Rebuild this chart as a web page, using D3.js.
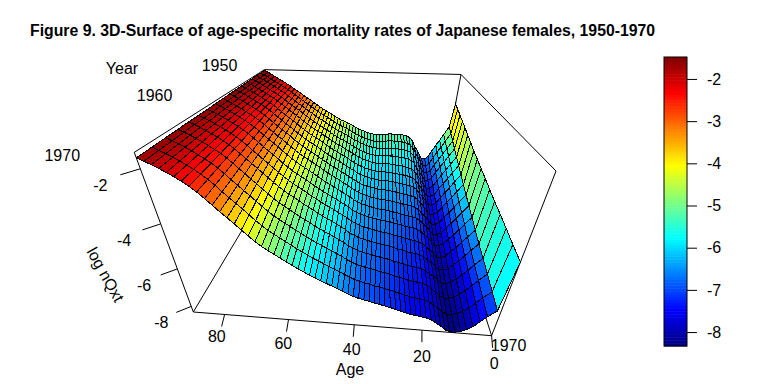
<!DOCTYPE html>
<html>
<head>
<meta charset="utf-8">
<script src="https://cdn.jsdelivr.net/npm/d3@7"></script>
<style>
  html, body { margin: 0; padding: 0; background: #fff; }
  svg text { font-family: "Liberation Sans", Arial, sans-serif; font-size: 16px; fill: #000; }
</style>
</head>
<body>
<div id="graph-container"></div>
<script>
const ages = [0, 1, 3, 4.5, 6, 7.5, 9, 10.5, 12, 13.5, 15, 16.5, 18, 19.5, 21, 22.5, 24, 25.5, 27, 28.5, 30, 31.5, 33, 34.5, 36, 37.5, 39, 40.5, 42, 43.5, 45, 46.5, 48, 49.5, 51, 52.5, 54, 55.5, 57, 58.5, 60, 61.5, 63, 64.5, 66, 67.5, 69, 70.5, 72, 73.5, 75, 76.5, 78, 79.5, 81, 82.5, 84, 85.5, 87, 88.5, 90];
const years = [1950, 1951.25, 1952.5, 1953.75, 1955, 1956.25, 1957.5, 1958.75, 1960, 1961.25, 1962.5, 1963.75, 1965, 1966.25, 1967.5, 1968.75, 1970];

// log mortality, one row per year, one column per age. Estimated by eye from the colour bands and grid lines
const rates = [
  [-3.15,-4.60,-5.10,-5.50,-5.85,-6.25,-6.65,-6.85,-6.85,-6.58,-6.25,-5.95,-5.60,-5.40,-5.30,-5.25,-5.20,-5.20,-5.20,-5.20,-5.20,-5.24,-5.28,-5.30,-5.30,-5.27,-5.22,-5.18,-5.10,-5.03,-4.95,-4.86,-4.75,-4.64,-4.55,-4.47,-4.40,-4.29,-4.18,-4.06,-3.95,-3.84,-3.72,-3.60,-3.45,-3.34,-3.20,-3.06,-2.95,-2.80,-2.68,-2.55,-2.40,-2.29,-2.18,-2.06,-1.95,-1.84,-1.72,-1.62,-1.52],
  [-3.26,-4.76,-5.25,-5.65,-5.99,-6.38,-6.79,-6.98,-6.98,-6.71,-6.39,-6.11,-5.77,-5.58,-5.49,-5.44,-5.39,-5.38,-5.38,-5.37,-5.37,-5.40,-5.43,-5.44,-5.44,-5.41,-5.35,-5.31,-5.23,-5.16,-5.07,-4.97,-4.86,-4.74,-4.65,-4.56,-4.48,-4.37,-4.25,-4.13,-4.01,-3.90,-3.78,-3.66,-3.50,-3.39,-3.24,-3.10,-2.98,-2.83,-2.70,-2.57,-2.42,-2.30,-2.19,-2.07,-1.96,-1.85,-1.73,-1.63,-1.53],
  [-3.36,-4.93,-5.41,-5.79,-6.14,-6.51,-6.92,-7.10,-7.10,-6.83,-6.53,-6.26,-5.94,-5.76,-5.67,-5.62,-5.58,-5.56,-5.55,-5.54,-5.53,-5.55,-5.57,-5.58,-5.57,-5.54,-5.48,-5.44,-5.35,-5.28,-5.18,-5.08,-4.96,-4.84,-4.74,-4.65,-4.56,-4.44,-4.32,-4.19,-4.07,-3.95,-3.83,-3.71,-3.55,-3.43,-3.28,-3.13,-3.01,-2.86,-2.72,-2.58,-2.43,-2.31,-2.19,-2.07,-1.96,-1.85,-1.73,-1.63,-1.53],
  [-3.47,-5.09,-5.56,-5.94,-6.28,-6.64,-7.04,-7.21,-7.21,-6.96,-6.67,-6.42,-6.12,-5.95,-5.86,-5.81,-5.77,-5.75,-5.73,-5.72,-5.70,-5.71,-5.72,-5.73,-5.71,-5.68,-5.62,-5.57,-5.48,-5.41,-5.30,-5.20,-5.07,-4.95,-4.84,-4.74,-4.65,-4.52,-4.39,-4.26,-4.13,-4.01,-3.89,-3.77,-3.61,-3.48,-3.33,-3.17,-3.05,-2.89,-2.75,-2.60,-2.45,-2.32,-2.20,-2.08,-1.97,-1.86,-1.74,-1.64,-1.54],
  [-3.57,-5.26,-5.72,-6.09,-6.42,-6.77,-7.17,-7.33,-7.33,-7.08,-6.81,-6.57,-6.29,-6.13,-6.05,-6.00,-5.96,-5.93,-5.91,-5.89,-5.86,-5.87,-5.87,-5.87,-5.84,-5.81,-5.75,-5.70,-5.61,-5.53,-5.41,-5.31,-5.17,-5.05,-4.93,-4.83,-4.73,-4.60,-4.46,-4.33,-4.19,-4.07,-3.95,-3.82,-3.66,-3.53,-3.37,-3.21,-3.08,-2.92,-2.77,-2.62,-2.46,-2.33,-2.21,-2.09,-1.98,-1.86,-1.75,-1.65,-1.55],
  [-3.68,-5.42,-5.87,-6.24,-6.57,-6.90,-7.29,-7.44,-7.44,-7.19,-6.93,-6.71,-6.45,-6.29,-6.22,-6.17,-6.13,-6.10,-6.07,-6.04,-6.01,-6.01,-6.00,-6.00,-5.96,-5.93,-5.87,-5.82,-5.73,-5.64,-5.51,-5.41,-5.27,-5.15,-5.02,-4.92,-4.81,-4.68,-4.54,-4.40,-4.26,-4.14,-4.02,-3.89,-3.72,-3.59,-3.42,-3.26,-3.12,-2.96,-2.80,-2.64,-2.48,-2.35,-2.22,-2.10,-1.99,-1.87,-1.76,-1.66,-1.56],
  [-3.78,-5.59,-6.02,-6.38,-6.71,-7.03,-7.40,-7.55,-7.55,-7.30,-7.05,-6.84,-6.60,-6.45,-6.38,-6.33,-6.30,-6.26,-6.22,-6.19,-6.15,-6.14,-6.13,-6.12,-6.08,-6.04,-5.98,-5.93,-5.84,-5.74,-5.60,-5.50,-5.36,-5.24,-5.11,-5.00,-4.89,-4.75,-4.61,-4.47,-4.33,-4.21,-4.08,-3.95,-3.78,-3.64,-3.47,-3.30,-3.16,-2.99,-2.83,-2.66,-2.50,-2.36,-2.23,-2.11,-2.00,-1.88,-1.76,-1.66,-1.56],
  [-3.89,-5.75,-6.18,-6.53,-6.85,-7.16,-7.51,-7.65,-7.65,-7.41,-7.18,-6.98,-6.75,-6.62,-6.55,-6.50,-6.47,-6.42,-6.38,-6.34,-6.30,-6.28,-6.27,-6.25,-6.20,-6.16,-6.10,-6.05,-5.95,-5.85,-5.70,-5.59,-5.46,-5.33,-5.20,-5.09,-4.97,-4.83,-4.69,-4.55,-4.41,-4.28,-4.15,-4.02,-3.85,-3.70,-3.52,-3.35,-3.20,-3.03,-2.86,-2.69,-2.52,-2.38,-2.24,-2.12,-2.01,-1.89,-1.77,-1.67,-1.57],
  [-3.98,-5.89,-6.31,-6.66,-6.98,-7.27,-7.62,-7.75,-7.75,-7.52,-7.30,-7.11,-6.90,-6.78,-6.71,-6.66,-6.63,-6.58,-6.53,-6.49,-6.44,-6.42,-6.40,-6.37,-6.32,-6.28,-6.22,-6.16,-6.06,-5.95,-5.80,-5.68,-5.55,-5.42,-5.29,-5.17,-5.05,-4.91,-4.76,-4.62,-4.48,-4.35,-4.22,-4.08,-3.91,-3.75,-3.57,-3.39,-3.24,-3.06,-2.89,-2.71,-2.53,-2.39,-2.25,-2.13,-2.01,-1.89,-1.78,-1.68,-1.58],
  [-4.07,-6.03,-6.44,-6.78,-7.10,-7.38,-7.72,-7.84,-7.84,-7.61,-7.40,-7.22,-7.02,-6.90,-6.84,-6.79,-6.76,-6.70,-6.65,-6.61,-6.55,-6.53,-6.50,-6.47,-6.42,-6.37,-6.31,-6.25,-6.15,-6.04,-5.88,-5.76,-5.63,-5.50,-5.37,-5.25,-5.13,-4.99,-4.84,-4.70,-4.56,-4.42,-4.29,-4.15,-3.98,-3.81,-3.63,-3.44,-3.28,-3.10,-2.92,-2.74,-2.55,-2.41,-2.27,-2.14,-2.02,-1.90,-1.79,-1.69,-1.59],
  [-4.16,-6.17,-6.57,-6.91,-7.22,-7.49,-7.81,-7.92,-7.92,-7.69,-7.49,-7.32,-7.13,-7.02,-6.96,-6.92,-6.88,-6.82,-6.77,-6.72,-6.66,-6.63,-6.60,-6.56,-6.51,-6.46,-6.40,-6.34,-6.23,-6.13,-5.96,-5.83,-5.70,-5.57,-5.45,-5.33,-5.20,-5.06,-4.92,-4.78,-4.63,-4.49,-4.36,-4.21,-4.04,-3.87,-3.68,-3.49,-3.32,-3.13,-2.95,-2.76,-2.57,-2.42,-2.28,-2.15,-2.03,-1.91,-1.80,-1.70,-1.60],
  [-4.25,-6.32,-6.71,-7.03,-7.35,-7.60,-7.89,-8.00,-8.00,-7.78,-7.59,-7.42,-7.25,-7.14,-7.09,-7.05,-7.01,-6.94,-6.89,-6.84,-6.77,-6.74,-6.70,-6.66,-6.60,-6.55,-6.49,-6.43,-6.32,-6.22,-6.04,-5.91,-5.78,-5.65,-5.53,-5.41,-5.28,-5.13,-5.00,-4.86,-4.70,-4.56,-4.43,-4.28,-4.10,-3.93,-3.73,-3.54,-3.36,-3.16,-2.98,-2.78,-2.59,-2.43,-2.29,-2.16,-2.04,-1.92,-1.81,-1.71,-1.61],
  [-4.34,-6.46,-6.84,-7.16,-7.47,-7.71,-7.97,-8.07,-8.07,-7.86,-7.68,-7.52,-7.36,-7.26,-7.21,-7.17,-7.13,-7.06,-7.01,-6.95,-6.88,-6.84,-6.79,-6.75,-6.69,-6.64,-6.58,-6.51,-6.40,-6.30,-6.11,-5.98,-5.85,-5.72,-5.60,-5.48,-5.35,-5.20,-5.07,-4.93,-4.77,-4.63,-4.49,-4.34,-4.16,-3.98,-3.78,-3.58,-3.39,-3.19,-3.00,-2.80,-2.60,-2.44,-2.30,-2.16,-2.04,-1.92,-1.81,-1.71,-1.61],
  [-4.41,-6.57,-6.95,-7.26,-7.57,-7.80,-8.03,-8.13,-8.13,-7.92,-7.75,-7.60,-7.45,-7.35,-7.30,-7.26,-7.23,-7.15,-7.10,-7.04,-6.96,-6.92,-6.87,-6.82,-6.76,-6.71,-6.65,-6.58,-6.47,-6.36,-6.19,-6.07,-5.94,-5.82,-5.70,-5.58,-5.45,-5.30,-5.17,-5.03,-4.87,-4.73,-4.58,-4.43,-4.25,-4.06,-3.85,-3.64,-3.45,-3.24,-3.04,-2.83,-2.63,-2.46,-2.32,-2.18,-2.05,-1.93,-1.82,-1.72,-1.62],
  [-4.49,-6.69,-7.06,-7.37,-7.67,-7.90,-8.09,-8.18,-8.18,-8.06,-7.86,-7.72,-7.53,-7.44,-7.39,-7.35,-7.32,-7.24,-7.18,-7.12,-7.04,-6.99,-6.94,-6.89,-6.82,-6.77,-6.71,-6.64,-6.53,-6.42,-6.27,-6.15,-6.03,-5.91,-5.79,-5.67,-5.54,-5.40,-5.26,-5.12,-4.96,-4.82,-4.67,-4.52,-4.33,-4.13,-3.92,-3.70,-3.50,-3.29,-3.08,-2.86,-2.65,-2.48,-2.33,-2.19,-2.06,-1.94,-1.83,-1.73,-1.63],
  [-4.58,-6.83,-7.19,-7.50,-7.80,-8.01,-8.16,-8.24,-8.24,-8.13,-7.93,-7.78,-7.62,-7.53,-7.48,-7.44,-7.41,-7.33,-7.27,-7.20,-7.12,-7.07,-7.01,-6.96,-6.89,-6.84,-6.78,-6.70,-6.59,-6.48,-6.35,-6.23,-6.12,-6.00,-5.88,-5.77,-5.63,-5.50,-5.36,-5.21,-5.06,-4.91,-4.76,-4.61,-4.42,-4.21,-3.99,-3.76,-3.55,-3.34,-3.12,-2.89,-2.68,-2.50,-2.34,-2.20,-2.07,-1.95,-1.84,-1.74,-1.64],
  [-4.65,-6.95,-7.30,-7.60,-7.90,-8.10,-8.22,-8.30,-8.30,-8.20,-8.00,-7.85,-7.70,-7.62,-7.57,-7.53,-7.50,-7.42,-7.35,-7.28,-7.20,-7.14,-7.08,-7.03,-6.95,-6.90,-6.84,-6.76,-6.65,-6.54,-6.42,-6.31,-6.20,-6.09,-5.97,-5.86,-5.72,-5.59,-5.45,-5.30,-5.15,-5.00,-4.85,-4.69,-4.50,-4.28,-4.05,-3.82,-3.60,-3.38,-3.15,-2.92,-2.70,-2.51,-2.35,-2.21,-2.08,-1.96,-1.85,-1.75,-1.65],
];

const ageTicks = [80, 60, 40, 20, 0];
const rateTicks = [-2, -4, -6, -8];
const yearLabels = [1950, 1960, 1970];
const colorbarTicks = [-2, -3, -4, -5, -6, -7, -8];

const jetColors = ["#00007F", "#0000FF", "#007FFF", "#00FFFF", "#7FFF7F", "#FFFF00", "#FF7F00", "#FF0000", "#7F0000"];
const rateMin = -8.33;
const rateMax = -1.48;
const colorSteps = 100;

const svg = d3.select("#graph-container").append("svg").attr("width", 768).attr("height", 384);

// Cube scales
const ageScale = d3.scaleLinear().domain([0, 90]).range([0, 1]);
const yearScale = d3.scaleLinear().domain([1950, 1970]).range([0, 1]);
const rateScale = d3.scaleLinear().domain([rateMin, rateMax]).range([0, 1]);

// Jet colour ramp, cut into 100 levels like the legend
const jet = d3.scaleLinear()
  .domain(d3.range(jetColors.length).map((i) => i / (jetColors.length - 1)))
  .range(jetColors)
  .interpolate(d3.interpolateRgb);
const levelColor = (z) => {
  const t = Math.max(0, Math.min(colorSteps - 1, Math.floor(rateScale(z) * colorSteps)));
  return jet((t + 0.5) / colorSteps);
};

// Camera: fit a perspective matrix to where the box corners sit on the page
const boxCorners = [
  [1, 1, 1, 132, 156], [1, 0, 1, 268, 69], [0, 0, 1, 458, 72], [0, 1, 1, 557, 174],
  [1, 1, 0, 193, 310], [0, 1, 0, 493, 333], [0, 0, 0, 443, 182], [1, 0, 0, 275, 172],
];

function fitCamera(corners) {
  const n = 11;
  const a = d3.range(n).map(() => new Array(n + 1).fill(0));
  function addRow(row, rhs) {
    for (let i = 0; i < n; i++) {
      for (let j = 0; j < n; j++) a[i][j] += row[i] * row[j];
      a[i][n] += row[i] * rhs;
    }
  }
  corners.forEach(([u, v, w, x, y]) => {
    addRow([u, v, w, 1, 0, 0, 0, 0, -x * u, -x * v, -x * w], x);
    addRow([0, 0, 0, 0, u, v, w, 1, -y * u, -y * v, -y * w], y);
  });
  for (let i = 0; i < n; i++) {
    let best = i;
    for (let r = i + 1; r < n; r++) if (Math.abs(a[r][i]) > Math.abs(a[best][i])) best = r;
    [a[i], a[best]] = [a[best], a[i]];
    for (let r = 0; r < n; r++) {
      if (r === i) continue;
      const k = a[r][i] / a[i][i];
      for (let c = i; c <= n; c++) a[r][c] -= k * a[i][c];
    }
  }
  return a.map((row, i) => row[n] / row[i]);
}

const cam = fitCamera(boxCorners);

function depth(u, v, w) {
  return cam[8] * u + cam[9] * v + cam[10] * w + 1;
}

function project(u, v, w) {
  const d = depth(u, v, w);
  return [(cam[0] * u + cam[1] * v + cam[2] * w + cam[3]) / d, (cam[4] * u + cam[5] * v + cam[6] * w + cam[7]) / d];
}

function point(age, year, rate) {
  return project(ageScale(age), yearScale(year), rateScale(rate));
}

const line = d3.line();

// Box edges behind the surface
const boxEdges = [
  [[90, 1970, rateMax], [90, 1950, rateMax]],
  [[90, 1950, rateMax], [0, 1950, rateMax]],
  [[0, 1950, rateMax], [0, 1970, rateMax]],
  [[90, 1970, rateMin], [90, 1970, rateMax]],
  [[0, 1970, rateMin], [0, 1970, rateMax]],
  [[90, 1970, rateMin], [0, 1970, rateMin]],
  [[90, 1970, rateMin], [90, 1950, rateMin]],
  [[0, 1970, rateMin], [0, 1950, rateMin]],
  [[0, 1950, rateMin], [0, 1950, rateMax]],
];

svg.append("g")
  .selectAll("path")
  .data(boxEdges)
  .enter()
  .append("path")
  .attr("fill", "none")
  .attr("stroke", "#000")
  .attr("stroke-width", 1)
  .attr("d", (d) => line(d.map((c) => point(c[0], c[1], c[2]))));

// Surface facets, far ones first
const facets = [];
for (let i = 0; i < years.length - 1; i++) {
  for (let j = 0; j < ages.length - 1; j++) {
    const cell = [[i, j], [i, j + 1], [i + 1, j + 1], [i + 1, j]];
    const zs = cell.map(([r, c]) => rates[r][c]);
    const centre = [d3.mean(cell, (q) => ageScale(ages[q[1]])), d3.mean(cell, (q) => yearScale(years[q[0]])), rateScale(d3.mean(zs))];
    facets.push({
      corners: cell.map(([r, c]) => point(ages[c], years[r], rates[r][c])),
      mean: d3.mean(zs),
      depth: depth(centre[0], centre[1], centre[2]),
    });
  }
}
facets.sort((a, b) => b.depth - a.depth);

svg.append("g")
  .attr("shape-rendering", "crispEdges")
  .selectAll("path")
  .data(facets)
  .enter()
  .append("path")
  .attr("d", (d) => line(d.corners) + "Z")
  .attr("fill", (d) => levelColor(d.mean))
  .attr("stroke", "#000")
  .attr("stroke-width", 1);

// Age axis ticks
const ageTickDx = d3.scaleLinear().domain([0, 80]).range([1, -3]);
const ageLabelDy = d3.scaleLinear().domain([0, 80]).range([33, 28]);
const ageAxis = svg.append("g");
ageTicks.forEach((age) => {
  const p = point(age, 1970, rateMin);
  ageAxis.append("path").attr("stroke", "#000").attr("d", line([p, [p[0] + ageTickDx(age), p[1] + 12]]));
  ageAxis.append("text").attr("text-anchor", "middle").attr("x", p[0] + ageTickDx(age) * 2.6).attr("y", p[1] + ageLabelDy(age)).text(age);
});

// Rate axis ticks
const rateTickDx = d3.scaleLinear().domain([-8, -2]).range([-15, -20]);
const rateAxis = svg.append("g");
rateTicks.forEach((rate) => {
  const p = point(90, 1970, rate);
  rateAxis.append("path").attr("stroke", "#000").attr("d", line([p, [p[0] + rateTickDx(rate), p[1] + 6]]));
  rateAxis.append("text").attr("text-anchor", "middle").attr("x", p[0] + rateTickDx(rate) * 2).attr("y", p[1] + 22).text(rate);
});

// Year labels sit off the top edge of the box
const yearLabelOffset = { 1950: [-45, 1], 1960: [-68, 5], 1970: [-72, 9] };
yearLabels.forEach((year) => {
  const p = point(90, year, rateMax);
  svg.append("text").attr("text-anchor", "middle")
    .attr("x", p[0] + yearLabelOffset[year][0])
    .attr("y", p[1] + yearLabelOffset[year][1])
    .text(year);
});
const frontCorner = point(0, 1970, rateMin);
svg.append("text").attr("text-anchor", "middle").attr("x", frontCorner[0] + 17).attr("y", frontCorner[1] + 15).text(1970);

svg.append("text").attr("text-anchor", "middle").attr("x", 122).attr("y", 74).text("Year");
svg.append("text").attr("text-anchor", "middle").attr("x", 350).attr("y", 375).text("Age");
svg.append("text").attr("text-anchor", "middle").attr("transform", "translate(105,275) rotate(61)").attr("dy", 5).text("log nQxt");

// Title
svg.append("text")
  .attr("x", 30)
  .attr("y", 36)
  .style("font-weight", "bold")
  .style("font-size", "15.8px")
  .text("Figure 9. 3D-Surface of age-specific mortality rates of Japanese females, 1950-1970");

// Colour bar
const barScale = d3.scaleLinear().domain([rateMin, rateMax]).range([346, 57]);
const bar = svg.append("g");
bar.selectAll("rect")
  .data(d3.range(colorSteps))
  .enter()
  .append("rect")
  .attr("x", 664)
  .attr("width", 23)
  .attr("y", (d) => barScale(rateMin + ((d + 1) / colorSteps) * (rateMax - rateMin)))
  .attr("height", (346 - 57) / colorSteps + 0.5)
  .attr("fill", (d) => jet((d + 0.5) / colorSteps));
bar.append("rect")
  .attr("x", 664).attr("y", 57).attr("width", 23).attr("height", 289)
  .attr("fill", "none").attr("stroke", "#000");
const barAxis = svg.append("g")
  .attr("transform", "translate(687,0)")
  .call(d3.axisRight(barScale).tickValues(colorbarTicks).tickSize(10).tickPadding(10).tickFormat((d) => d));
barAxis.select(".domain").remove();
barAxis.selectAll("text").style("font-size", "16px").style("font-family", "Liberation Sans");
</script>
</body>
</html>
